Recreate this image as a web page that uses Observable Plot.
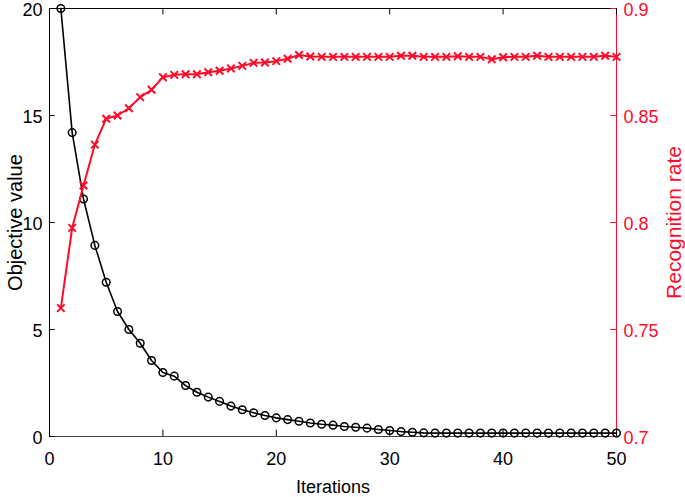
<!DOCTYPE html>
<html><head><meta charset="utf-8">
<script src="https://cdn.jsdelivr.net/npm/d3@7"></script>
<script src="https://cdn.jsdelivr.net/npm/@observablehq/plot@0.6"></script>
<style>body{margin:0;background:#fff}</style>
</head><body><div id="chart"></div>
<script>
const iterations = [1,2,3,4,5,6,7,8,9,10,11,12,13,14,15,16,17,18,19,20,21,22,23,24,25,26,27,28,29,30,31,32,33,34,35,36,37,38,39,40,41,42,43,44,45,46,47,48,49,50];
const objectiveValue = [20,14.2,11.1,8.93,7.21,5.84,5.0,4.36,3.55,2.99,2.82,2.38,2.07,1.84,1.64,1.42,1.25,1.11,0.98,0.87,0.79,0.71,0.63,0.57,0.53,0.47,0.43,0.39,0.33,0.28,0.23,0.2,0.17,0.16,0.16,0.16,0.16,0.16,0.16,0.16,0.16,0.16,0.16,0.16,0.16,0.16,0.16,0.16,0.16,0.16];
const recognitionRate = [0.760,0.7975,0.8173,0.8364,0.8485,0.850,0.8534,0.8586,0.862,0.8679,0.869,0.8693,0.8693,0.8702,0.8709,0.872,0.8732,0.8746,0.8748,0.8754,0.8765,0.8783,0.8776,0.8774,0.8774,0.8774,0.8774,0.8774,0.8774,0.8774,0.8779,0.8779,0.8774,0.8774,0.8774,0.8777,0.8774,0.8774,0.8763,0.8772,0.8774,0.8774,0.8779,0.8774,0.8774,0.8774,0.8774,0.8774,0.8779,0.8774];
const xTicks = [0,10,20,30,40,50];
const leftTicks = [0,5,10,15,20];
const rightTicks = [0.7,0.75,0.8,0.85,0.9];
const rightLabels = ["0.7","0.75","0.8","0.85","0.9"];
const xLabel = "Iterations";
const leftLabel = "Objective value";
const rightLabel = "Recognition rate";

// map right-axis values onto the left scale (0.7..0.9 -> 0..20)
const toLeft = r => (r - 0.7) / 0.2 * 20;
const rightPos = rightTicks.map(toLeft);

const obj = iterations.map((x, i) => ({x, y: objectiveValue[i]}));
const rec = iterations.map((x, i) => ({x, y: toLeft(recognitionRate[i])}));
const RED = "#ff0a28";

const chart = Plot.plot({
  width: 685, height: 497,
  marginLeft: 49, marginRight: 69, marginTop: 8, marginBottom: 61,
  style: {fontFamily: "'Liberation Sans', Arial, sans-serif", fontSize: "18px", background: "#fff"},
  x: {domain: [0, 50]},
  y: {domain: [0, 20]},
  marks: [
    // frame
    Plot.ruleY([0], {stroke: "#444", strokeWidth: 1}),
    Plot.ruleY([20], {stroke: "#000", strokeWidth: 1}),
    Plot.ruleX([0], {stroke: "#000", strokeWidth: 1}),
    Plot.ruleX([50], {stroke: RED, strokeWidth: 1}),
    // inward ticks
    Plot.ruleY(leftTicks, {x1: 0, x2: 0.5, stroke: "#000"}),
    Plot.ruleY(rightPos, {x1: 49.5, x2: 50, stroke: RED}),
    Plot.ruleX(xTicks, {y1: 0, y2: 0.3, stroke: "#000"}),
    Plot.ruleX(xTicks, {y1: 19.7, y2: 20, stroke: "#000"}),
    // axes labels
    Plot.axisY({ticks: leftTicks, tickSize: 0, tickPadding: 7, dy: 1.5, label: null, fill: "#000"}),
    Plot.axisY(rightPos, {anchor: "right", tickSize: 0, tickPadding: 7, dy: 1.5, label: null, fill: RED,
      tickFormat: v => rightLabels[rightPos.indexOf(v)]}),
    Plot.axisX({ticks: xTicks, tickSize: 0, tickPadding: 16, label: null, fill: "#000"}),
    // data
    Plot.line(obj, {x: "x", y: "y", stroke: "#000", strokeWidth: 1.6}),
    Plot.dot(obj, {x: "x", y: "y", r: 3.8, stroke: "#000", strokeWidth: 1.5, fill: "none"}),
    Plot.line(rec, {x: "x", y: "y", stroke: RED, strokeWidth: 2}),
    Plot.dot(rec, {x: "x", y: "y", symbol: "times", r: 3.5, stroke: RED, strokeWidth: 2}),
    // titles
    Plot.text([leftLabel], {frameAnchor: "left", dx: -34, rotate: -90, textAnchor: "middle", lineAnchor: "middle", fontSize: 20, fill: "#000", text: d => d}),
    Plot.text([rightLabel], {frameAnchor: "right", dx: 58, rotate: -90, textAnchor: "middle", lineAnchor: "middle", fontSize: 21, fill: RED, text: d => d}),
    Plot.text([xLabel], {frameAnchor: "bottom", dy: 51, textAnchor: "middle", lineAnchor: "middle", fontSize: 18, fill: "#000", text: d => d})
  ]
});
document.getElementById("chart").append(chart);
</script>
</body></html>
